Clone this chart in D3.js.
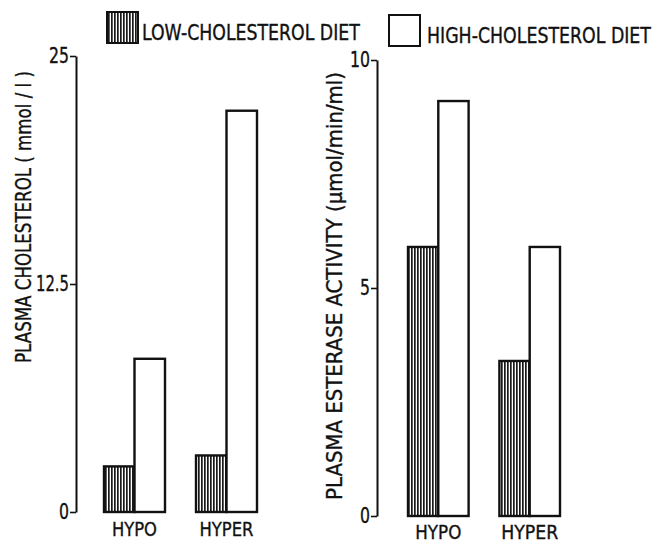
<!DOCTYPE html>
<html><head><meta charset="utf-8">
<script src="https://cdn.jsdelivr.net/npm/d3@7"></script>
<style>
html,body{margin:0;padding:0;background:#fff;}
svg text{font-family:"DejaVu Sans Condensed","Liberation Sans Narrow","DejaVu Sans",sans-serif;fill:#111;stroke:#111;stroke-width:0.35px;}
</style></head>
<body>
<svg id="c" width="661" height="545"></svg>
<script>
const categories = ["HYPO", "HYPER"];
const series = ["LOW-CHOLESTEROL DIET", "HIGH-CHOLESTEROL DIET"];
const cholesterolLow = [2.5, 3.1];
const cholesterolHigh = [8.4, 22.0];
const esteraseLow = [5.9, 3.4];
const esteraseHigh = [9.1, 5.9];
const cholTicks = [0, 12.5, 25];
const estTicks = [0, 5, 10];

const svg = d3.select("#c");
const defs = svg.append("defs");
const pat = defs.append("pattern").attr("id","hatch").attr("patternUnits","userSpaceOnUse")
  .attr("width",3).attr("height",6);
pat.append("rect").attr("width",3).attr("height",6).attr("fill","#fff");
pat.append("rect").attr("x",0).attr("width",1.7).attr("height",6).attr("fill","#1a1a1a");

function panel(cfg){
  const y = d3.scaleLinear().domain(cfg.domain).range(cfg.yRange);
  const x = d3.scaleBand().domain(categories).range(cfg.xRange).paddingInner(0.337).paddingOuter(0);
  const xs = d3.scaleBand().domain([0,1]).range([0, x.bandwidth()]);
  const g = svg.append("g");
  const ax = g.append("g").attr("transform",`translate(${cfg.axisX},0)`)
    .call(d3.axisLeft(y).tickValues(cfg.ticks).tickSize(6).tickSizeOuter(0).tickPadding(1)
      .tickFormat(d=>String(d)));
  ax.select(".domain").attr("stroke","#111").attr("stroke-width",2);
  ax.selectAll(".tick line").attr("stroke","#111").attr("stroke-width",1.6);
  ax.selectAll(".tick text").style("font-size","21px").attr("fill","#111")
    .attr("textLength", d=>String(d).length>2 ? 33 : String(d).length*10)
    .attr("lengthAdjust","spacingAndGlyphs");

  const data = [];
  categories.forEach((c,i)=>{
    data.push({c, s:0, v:cfg.low[i]});
    data.push({c, s:1, v:cfg.high[i]});
  });
  g.selectAll("rect.bar").data(data).enter().append("rect").attr("class","bar")
    .attr("x", d=>x(d.c)+xs(d.s))
    .attr("y", d=>y(d.v))
    .attr("width", xs.bandwidth())
    .attr("height", d=>y(0)-y(d.v))
    .attr("fill", d=> d.s===0 ? "url(#hatch)" : "#fff")
    .attr("stroke","#111").attr("stroke-width",2.4);

  g.selectAll("text.cat").data(categories).enter().append("text").attr("class","cat")
    .attr("x", d=>x(d)+x.bandwidth()/2).attr("y", cfg.catY)
    .attr("text-anchor","middle").style("font-size","20px")
    .attr("textLength", (d,i)=>cfg.catLen[i]).attr("lengthAdjust","spacingAndGlyphs")
    .text(d=>d);

  g.append("text").attr("transform",`translate(${cfg.labelX},${cfg.labelY}) rotate(-90)`)
    .attr("text-anchor","middle").style("font-size","21px")
    .attr("textLength", cfg.labelLen).attr("lengthAdjust","spacingAndGlyphs")
    .text(cfg.label);
}

panel({domain:[0,25], yRange:[512,56], xRange:[104,257], axisX:76, ticks:cholTicks,
  low:cholesterolLow, high:cholesterolHigh, catY:536, catLen:[45,54],
  label:"PLASMA CHOLESTEROL ( mmol / l )", labelX:31, labelY:217, labelLen:292});
panel({domain:[0,10], yRange:[516,60], xRange:[408,560], axisX:377, ticks:estTicks,
  low:esteraseLow, high:esteraseHigh, catY:539, catLen:[46,57],
  label:"PLASMA ESTERASE ACTIVITY (\u03bcmol/min/ml)", labelX:342, labelY:286, labelLen:428});

// legend
const leg = [
  {x:107, y:12, w:31, h:31, fill:"url(#hatch)", tx:142, ty:40, tl:218},
  {x:389, y:15, w:31, h:31, fill:"#fff", tx:427, ty:43, tl:224}
];
const lg = svg.append("g");
lg.selectAll("rect").data(leg).enter().append("rect")
  .attr("x",d=>d.x).attr("y",d=>d.y).attr("width",d=>d.w).attr("height",d=>d.h)
  .attr("fill",d=>d.fill).attr("stroke","#111").attr("stroke-width",2);
lg.selectAll("text").data(leg).enter().append("text")
  .style("font-size","22px")
  .text((d,i)=>series[i])
  .attr("transform", function(d){
    const w = this.getComputedTextLength() || d.tl;
    return `translate(${d.tx},${d.ty}) scale(${d.tl / w},1)`;
  });
</script>
</body></html>
